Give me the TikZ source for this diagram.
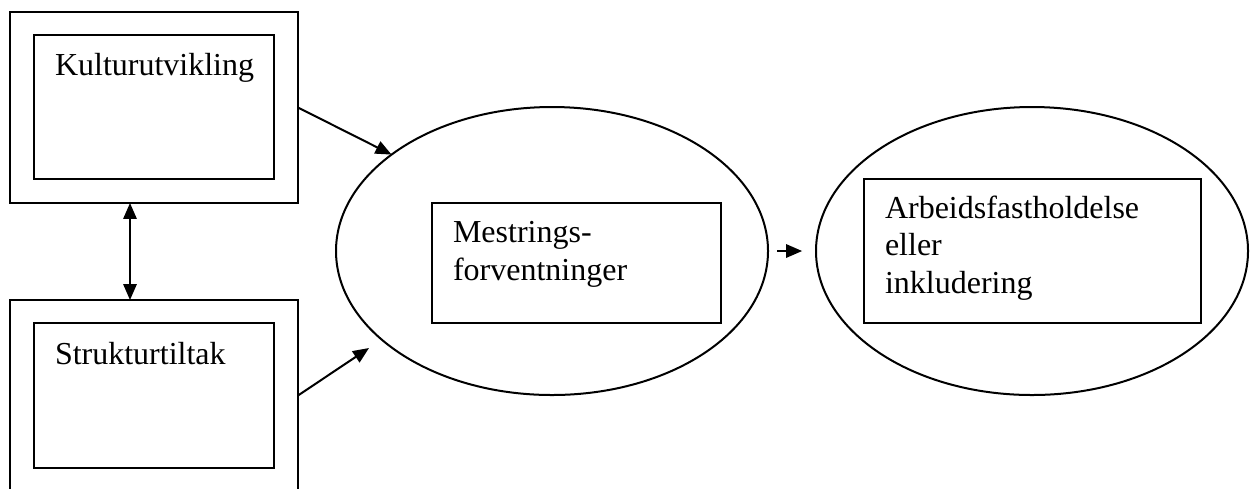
\documentclass[tikz,border=0pt]{standalone}
\usepackage{fontspec}
\setmainfont{Liberation Serif}
\usetikzlibrary{positioning,shapes.geometric,arrows.meta}

\begin{document}
\begin{tikzpicture}[x=0.375pt,y=-0.375pt,line width=0.75pt]
\tikzstyle{every node}+=[inner sep=0pt,outer sep=0pt]
\tikzstyle{outerbox}=[draw,rectangle,minimum width=108pt,minimum height=71.6pt]
\tikzstyle{innerbox}=[draw,rectangle,minimum width=90pt]
\tikzstyle{oval}=[draw,ellipse,minimum width=162pt,minimum height=108pt]
\tikzstyle{label}=[anchor=base west,align=left,font=\fontsize{12}{14}\selectfont]
\tikzstyle{arr}=[-{Triangle[length=6pt,width=5pt]}]
\clip (0,0) rectangle (1254,488);
\node [outerbox] (kultout) at (154,107.5) {};
\node [innerbox,minimum height=54pt] (kultin) at (154,107) {};
\node [label] (kulttxt) at (55,75.5) {Kulturutvikling};
\node [outerbox] (strukout) at (154,395.5) {};
\node [innerbox,minimum height=54.4pt] (strukin) at (154,395.5) {};
\node [label] (struktxt) at (55,364) {Strukturtiltak};
\node [oval] (mestr) at (552,251) {};
\node [draw,rectangle,minimum width=108.4pt,minimum height=45pt] (mestrin) at (576.5,263) {};
\node [label] (mestrtxt) at (453,280) {Mestrings-\\forventninger};
\node [oval] (arb) at (1032,251) {};
\node [draw,rectangle,minimum width=126.4pt,minimum height=54pt] (arbin) at (1032.5,251) {};
\node [label] (arbtxt) at (885,293) {Arbeidsfastholdelse\\eller\\inkludering};
\coordinate (strukend) at (369,348);
\draw [{Triangle[length=6pt,width=5pt]}-{Triangle[length=6pt,width=5pt]}] ([xshift=-9pt]kultout.south) -- ([xshift=-9pt]strukout.north);
\draw [arr] (kultout.east) -- (mestr.149);
\draw [arr] (strukout.east) -- (strukend);
\draw [arr,shorten <=3.4pt,shorten >=5.2pt] (mestr.east) -- (arb.west);
\end{tikzpicture}
\end{document}
